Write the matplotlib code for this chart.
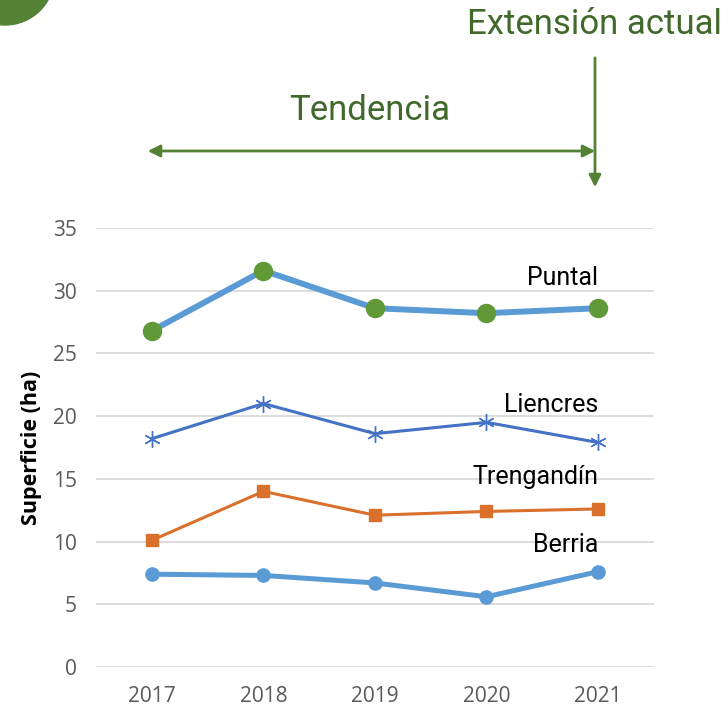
import matplotlib
matplotlib.use("Agg")
import matplotlib.pyplot as plt
from matplotlib.patches import Circle, FancyArrowPatch
from matplotlib.transforms import IdentityTransform

years = ["2017", "2018", "2019", "2020", "2021"]
puntal = [26.8, 31.6, 28.6, 28.2, 28.6]
liencres = [18.2, 21.0, 18.6, 19.5, 17.9]
trengandin = [10.1, 14.0, 12.1, 12.4, 12.6]
berria = [7.4, 7.3, 6.7, 5.6, 7.6]
names = ["Puntal", "Liencres", "Trengandín", "Berria"]
label_y = [31.0, 20.9, 15.15, 9.7]

green = "#41692C"

fig = plt.figure(figsize=(7.28, 7.14), dpi=100)
ax = fig.add_axes([0.132, 0.0658, 0.766, 0.615])
x = range(len(years))

ax.plot(x, puntal, color="#5B9BD5", lw=4.3, marker="o", ms=13,
        mfc="#619939", mec="#619939", zorder=3)
ax.plot(x, liencres, color="#4472C4", lw=2.2, marker=(6, 2, 0), ms=12,
        mec="#4472C4", mew=1.0, zorder=3)
ax.plot(x, trengandin, color="#D9702C", lw=2.2, marker="s", ms=8,
        mfc="#D9702C", mec="#D9702C", zorder=3)
ax.plot(x, berria, color="#5B9BD5", lw=3.6, marker="o", ms=9.5,
        mfc="#5B9BD5", mec="#5B9BD5", zorder=3)

for name, yy in zip(names, label_y):
    ax.text(4, yy, name, ha="right", va="center", fontsize=18,
            family="Roboto", color="black")

ax.set_xlim(-0.5, 4.5)
ax.set_ylim(0, 35)
ax.set_yticks(range(0, 36, 5))
ax.set_xticks(list(x))
ax.set_xticklabels(years)
ax.grid(axis="y", color="#D9D9D9", lw=1.3)
ax.set_axisbelow(True)
for s in ax.spines.values():
    s.set_visible(False)
ax.tick_params(length=0, labelsize=15, labelcolor="#595959", pad=14)
for t in ax.get_xticklabels() + ax.get_yticklabels():
    t.set_family("Open Sans")
ax.set_ylabel("Superficie (ha)", fontsize=15.5, fontweight="bold",
              family="Open Sans", labelpad=8)

# annotations above the chart (figure pixels, origin bottom-left)
H = 714
fig.text(370 / 728, 1 - 111 / H, "Tendencia", ha="center", va="center",
         fontsize=25, family="Roboto", color=green)
fig.text(594 / 728, 1 - 24 / H, "Extensión actual", ha="center",
         va="center", fontsize=25, family="Roboto", color=green)

arr = FancyArrowPatch((145, H - 151), (598, H - 151), arrowstyle="<|-|>",
                      mutation_scale=18, color="#548235", lw=2,
                      transform=IdentityTransform())
fig.add_artist(arr)
arr2 = FancyArrowPatch((595, H - 55), (595, H - 190), arrowstyle="-|>",
                       mutation_scale=18, color="#548235", lw=2,
                       transform=IdentityTransform())
fig.add_artist(arr2)

circ = Circle((5, H + 24.5), 49.5, color="#548235",
              transform=IdentityTransform())
fig.add_artist(circ)

fig.savefig("out.png", dpi=100)
